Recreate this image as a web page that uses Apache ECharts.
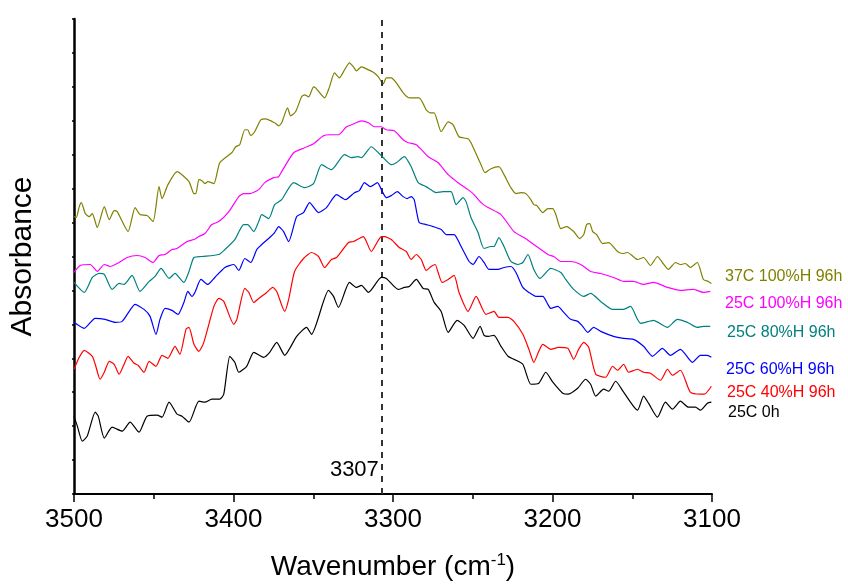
<!DOCTYPE html>
<html>
<head>
<meta charset="utf-8">
<script src="https://cdn.jsdelivr.net/npm/echarts@6/dist/echarts.min.js"></script>
<style>
html,body{margin:0;padding:0;background:#fff;}
#main{width:848px;height:586px;}
</style>
</head>
<body>
<div id="main"></div>
<script>
// ---- data (wavenumber cm^-1, absorbance in arbitrary offset units) ----
const seriesNames = ['37C 100%H 96h','25C 100%H 96h','25C 80%H 96h','25C 60%H 96h','25C 40%H 96h','25C 0h'];
const peakPosition = 3307;
const peakLabel = '3307';
const xTicks = [3500,3400,3300,3200,3100];

const s37C100H = [[3500,2.78],[3498.6,2.77],[3496.7,2.88],[3495.4,2.92],[3492.9,2.81],[3490.4,2.78],[3488.5,2.81],[3485.4,2.67],[3481.0,2.88],[3477.9,2.75],[3474.8,2.84],[3472.9,2.83],[3466.1,2.63],[3461.7,2.87],[3458.6,2.80],[3454.2,2.79],[3450.4,2.73],[3446.7,3.08],[3444.8,2.96],[3441.1,3.10],[3435.4,3.23],[3427.9,3.13],[3424.8,3.01],[3423.6,3.01],[3421.7,3.15],[3419.8,3.14],[3417.9,3.11],[3416.1,3.13],[3412.3,3.11],[3408.6,3.32],[3401.1,3.42],[3398.6,3.48],[3396.1,3.50],[3392.9,3.65],[3391.1,3.65],[3389.2,3.59],[3386.7,3.63],[3382.9,3.75],[3379.8,3.76],[3374.2,3.72],[3371.7,3.69],[3369.8,3.72],[3366.1,3.87],[3364.2,3.79],[3361.1,3.83],[3357.3,3.98],[3355.4,4.00],[3352.9,3.98],[3349.8,4.08],[3348.5,4.07],[3342.9,3.97],[3339.8,4.08],[3336.7,4.22],[3333.6,4.17],[3330.4,4.25],[3327.3,4.32],[3324.8,4.28],[3322.9,4.24],[3319.8,4.28],[3317.9,4.27],[3311.7,4.22],[3309.2,4.18],[3306.1,4.11],[3304.2,4.17],[3301.1,4.17],[3297.9,4.12],[3293.6,4.02],[3289.8,3.97],[3283.6,3.97],[3279.2,3.85],[3276.7,3.82],[3274.2,3.82],[3269.8,3.63],[3265.4,3.73],[3262.3,3.70],[3258.6,3.58],[3252.9,3.56],[3251.1,3.52],[3244.8,3.30],[3242.3,3.22],[3238.6,3.26],[3233.6,3.28],[3230.4,3.20],[3226.1,3.07],[3222.9,3.01],[3219.8,3.02],[3216.7,3.01],[3213.6,2.95],[3211.7,2.90],[3209.8,2.89],[3206.1,2.82],[3202.9,2.86],[3199.8,2.86],[3197.9,2.80],[3194.8,2.66],[3191.1,2.68],[3186.7,2.63],[3182.9,2.56],[3180.4,2.60],[3178.6,2.70],[3176.7,2.71],[3174.8,2.63],[3172.3,2.60],[3168.6,2.51],[3164.8,2.52],[3159.2,2.43],[3156.1,2.41],[3152.9,2.42],[3146.7,2.35],[3142.9,2.37],[3138.6,2.29],[3134.2,2.38],[3131.1,2.32],[3127.3,2.25],[3122.9,2.32],[3119.8,2.30],[3116.7,2.31],[3113.6,2.27],[3109.2,2.32],[3105.4,2.15],[3102.3,2.13],[3100.4,2.11]];

const s25C100H = [[3500,2.22],[3496.1,2.29],[3489.8,2.30],[3485.4,2.23],[3481.0,2.30],[3477.3,2.28],[3472.9,2.31],[3466.7,2.37],[3460.4,2.39],[3455.4,2.37],[3450.4,2.32],[3446.7,2.39],[3442.9,2.40],[3438.6,2.45],[3435.4,2.46],[3429.2,2.53],[3424.8,2.55],[3421.7,2.58],[3417.9,2.61],[3413.6,2.70],[3409.2,2.73],[3402.9,2.83],[3396.7,2.98],[3393.6,3.01],[3389.8,3.01],[3384.2,3.05],[3380.4,3.12],[3374.8,3.17],[3371.7,3.18],[3369.8,3.23],[3362.3,3.42],[3355.4,3.47],[3349.8,3.51],[3343.6,3.59],[3339.8,3.60],[3334.2,3.60],[3329.2,3.68],[3326.1,3.70],[3319.8,3.74],[3315.4,3.72],[3311.7,3.68],[3307.3,3.68],[3304.2,3.65],[3299.2,3.64],[3293.6,3.55],[3290.4,3.52],[3285.4,3.50],[3277.9,3.38],[3271.7,3.32],[3265.4,3.20],[3259.2,3.12],[3252.9,3.05],[3249.2,3.00],[3244.8,2.92],[3240.4,2.87],[3232.3,2.80],[3224.2,2.63],[3217.9,2.57],[3211.7,2.50],[3202.9,2.40],[3199.2,2.38],[3194.8,2.33],[3188.6,2.33],[3182.3,2.30],[3176.1,2.23],[3169.8,2.21],[3161.7,2.17],[3155.4,2.13],[3149.2,2.13],[3142.9,2.10],[3136.7,2.12],[3127.9,2.07],[3119.8,2.04],[3111.7,2.05],[3105.4,2.02],[3101.1,2.03]];

const s25C80H = [[3500,2.12],[3493.6,2.02],[3488.5,2.17],[3484.2,2.21],[3481.0,2.20],[3476.1,2.05],[3471.7,2.11],[3468.6,2.10],[3463.6,2.19],[3458.6,2.03],[3452.9,2.13],[3449.2,2.18],[3445.4,2.26],[3440.4,2.16],[3436.7,2.21],[3431.1,2.12],[3427.9,2.23],[3424.8,2.37],[3419.8,2.38],[3409.2,2.40],[3405.4,2.45],[3399.2,2.55],[3393.6,2.70],[3391.1,2.70],[3387.3,2.63],[3384.2,2.73],[3382.3,2.80],[3377.9,2.76],[3374.2,2.90],[3369.8,2.95],[3362.3,3.12],[3355.4,3.07],[3349.8,3.11],[3344.8,3.30],[3338.6,3.25],[3330.4,3.40],[3326.1,3.37],[3321.7,3.38],[3319.8,3.37],[3313.6,3.48],[3309.2,3.42],[3306.1,3.37],[3301.1,3.30],[3297.9,3.32],[3292.9,3.38],[3288.6,3.28],[3284.2,3.12],[3279.2,3.08],[3272.9,3.02],[3268.6,3.03],[3263.6,3.03],[3260.4,2.90],[3256.1,2.97],[3254.2,2.93],[3251.1,2.77],[3246.7,2.62],[3242.9,2.46],[3238.6,2.48],[3236.7,2.48],[3233.6,2.57],[3230.4,2.48],[3226.1,2.33],[3221.7,2.30],[3218.6,2.32],[3215.4,2.40],[3211.7,2.25],[3207.9,2.16],[3201.1,2.26],[3194.8,2.22],[3191.7,2.15],[3186.7,2.05],[3180.4,1.98],[3176.1,2.01],[3169.8,1.93],[3162.3,1.85],[3155.4,1.85],[3151.1,1.88],[3146.7,1.75],[3144.8,1.71],[3136.7,1.74],[3127.9,1.67],[3121.7,1.75],[3115.4,1.72],[3109.2,1.67],[3105.4,1.68],[3101.1,1.68]];

const s25C60H = [[3500,1.72],[3493.6,1.66],[3486.7,1.76],[3480.4,1.75],[3474.2,1.72],[3469.8,1.73],[3465.4,1.83],[3461.7,1.90],[3456.1,1.85],[3452.3,1.78],[3448.6,1.60],[3446.1,1.75],[3442.9,1.86],[3438.6,1.84],[3434.8,1.80],[3431.1,1.92],[3428.6,2.03],[3426.1,1.98],[3424.2,2.02],[3420.4,2.15],[3416.1,2.10],[3411.7,2.17],[3405.4,2.27],[3399.8,2.30],[3396.7,2.24],[3392.9,2.36],[3389.2,2.32],[3385.4,2.45],[3382.3,2.50],[3377.3,2.57],[3374.2,2.62],[3371.7,2.68],[3368.6,2.63],[3365.4,2.53],[3360.4,2.78],[3356.1,2.82],[3352.3,2.92],[3346.7,2.82],[3341.7,2.87],[3335.4,3.00],[3329.8,2.95],[3324.2,3.02],[3321.1,3.04],[3317.9,3.12],[3314.2,3.08],[3309.8,3.12],[3306.7,3.03],[3304.2,2.97],[3301.1,2.99],[3297.3,3.03],[3293.6,2.98],[3291.1,2.96],[3288.6,2.98],[3286.7,2.95],[3283.6,2.72],[3279.2,2.70],[3274.8,2.68],[3269.8,2.65],[3266.7,2.60],[3261.7,2.60],[3257.3,2.48],[3252.3,2.33],[3249.8,2.30],[3246.1,2.38],[3242.9,2.32],[3239.8,2.25],[3234.2,2.25],[3230.4,2.27],[3226.1,2.28],[3222.9,2.22],[3218.6,2.07],[3214.8,2.02],[3210.4,1.98],[3206.1,1.98],[3202.9,1.90],[3201.1,1.86],[3196.7,1.88],[3192.9,1.82],[3188.6,1.75],[3184.2,1.73],[3181.1,1.68],[3177.9,1.62],[3174.2,1.67],[3169.8,1.63],[3161.7,1.58],[3155.4,1.56],[3149.2,1.55],[3142.9,1.48],[3137.3,1.38],[3131.1,1.46],[3126.1,1.39],[3119.8,1.45],[3112.3,1.32],[3107.3,1.39],[3102.9,1.39],[3100.4,1.37]];

const s25C40H = [[3500,1.25],[3496.7,1.37],[3493.6,1.44],[3488.5,1.38],[3486.7,1.30],[3483.6,1.15],[3481.0,1.22],[3477.9,1.33],[3474.8,1.30],[3471.7,1.20],[3468.6,1.30],[3466.1,1.38],[3462.3,1.31],[3459.8,1.29],[3456.1,1.22],[3452.9,1.33],[3448.6,1.28],[3444.8,1.39],[3441.1,1.36],[3436.7,1.48],[3433.6,1.40],[3429.8,1.65],[3427.9,1.67],[3424.8,1.50],[3421.7,1.43],[3418.6,1.52],[3412.3,1.88],[3409.2,1.96],[3406.1,1.93],[3399.8,1.70],[3397.9,1.75],[3392.9,2.06],[3390.4,2.02],[3387.3,1.92],[3384.2,1.96],[3379.2,2.02],[3375.4,2.07],[3372.9,2.03],[3367.9,1.83],[3365.4,1.95],[3361.7,2.23],[3356.1,2.36],[3351.1,2.42],[3346.7,2.38],[3342.9,2.27],[3338.6,2.35],[3335.4,2.37],[3327.9,2.52],[3324.8,2.53],[3318.6,2.58],[3313.6,2.43],[3307.3,2.58],[3305.4,2.58],[3301.1,2.55],[3296.1,2.47],[3291.7,2.43],[3288.6,2.35],[3285.4,2.40],[3282.3,2.35],[3279.2,2.24],[3276.1,2.28],[3273.6,2.30],[3271.7,2.22],[3269.2,2.12],[3265.4,2.15],[3261.7,2.19],[3258.6,2.02],[3252.9,1.83],[3247.9,1.98],[3241.7,1.80],[3236.7,1.83],[3233.6,1.77],[3227.9,1.77],[3224.2,1.73],[3218.6,1.60],[3214.8,1.45],[3211.7,1.32],[3208.6,1.43],[3206.1,1.50],[3201.1,1.45],[3196.1,1.47],[3190.4,1.46],[3186.7,1.35],[3183.6,1.45],[3180.4,1.52],[3177.3,1.47],[3172.9,1.20],[3166.7,1.17],[3162.3,1.28],[3159.2,1.24],[3155.4,1.30],[3152.3,1.22],[3146.7,1.25],[3142.9,1.22],[3138.6,1.21],[3132.3,1.14],[3127.9,1.25],[3124.8,1.19],[3119.8,1.24],[3113.6,1.02],[3107.3,1.00],[3104.8,1.00],[3100.4,1.08]];

const s25C0h = [[3500,0.78],[3497.9,0.68],[3494.8,0.53],[3491.7,0.58],[3486.7,0.82],[3484.8,0.78],[3481.0,0.56],[3476.1,0.67],[3469.8,0.63],[3464.8,0.72],[3459.2,0.62],[3454.2,0.78],[3447.9,0.79],[3444.8,0.77],[3440.4,0.92],[3435.4,0.80],[3432.3,0.78],[3427.9,0.72],[3421.7,0.93],[3417.9,0.92],[3413.6,0.95],[3408.6,0.95],[3406.1,1.00],[3402.3,1.38],[3399.2,1.32],[3396.7,1.22],[3391.7,1.28],[3387.3,1.42],[3381.1,1.37],[3377.3,1.42],[3372.9,1.52],[3367.9,1.39],[3360.4,1.58],[3354.2,1.67],[3351.1,1.60],[3340.4,2.04],[3337.3,1.98],[3334.2,1.87],[3327.3,2.12],[3322.9,2.07],[3319.8,2.09],[3315.4,2.02],[3307.3,2.17],[3304.2,2.16],[3296.7,2.05],[3292.9,2.07],[3289.8,2.08],[3285.4,2.15],[3281.1,2.06],[3277.9,2.05],[3274.2,1.92],[3269.8,1.83],[3265.4,1.62],[3259.8,1.74],[3255.4,1.69],[3249.8,1.56],[3245.4,1.68],[3242.9,1.59],[3240.4,1.58],[3236.7,1.59],[3232.3,1.48],[3227.9,1.38],[3224.2,1.35],[3218.6,1.30],[3213.6,1.10],[3208.6,1.11],[3204.2,1.22],[3199.8,1.12],[3193.6,1.01],[3190.4,1.00],[3184.2,1.06],[3179.2,1.15],[3176.1,1.10],[3172.9,0.98],[3167.9,1.05],[3164.8,1.03],[3160.4,1.13],[3155.4,1.02],[3146.7,0.84],[3142.9,0.98],[3139.8,0.91],[3134.2,0.77],[3129.2,0.92],[3124.8,0.85],[3119.8,0.93],[3114.8,0.87],[3110.4,0.87],[3107.3,0.84],[3102.9,0.91],[3100.4,0.92]];

const seriesData = [s37C100H, s25C100H, s25C80H, s25C60H, s25C40H, s25C0h];

// ---- styling ----
const colors = ['#808000','#FF00FF','#008080','#0000FF','#FF0000','#000000'];
const FONT = '"Liberation Sans", Arial, Helvetica, sans-serif';
const labelLayout = [ {x:725,y:277},{x:725,y:304},{x:727,y:333},{x:726,y:370},{x:727,y:393},{x:728,y:413} ];

const chart = echarts.init(document.getElementById('main'), null, {renderer:'canvas'});

const lineSeries = seriesNames.map((name, i) => ({
  name: name,
  type: 'line',
  data: seriesData[i],
  showSymbol: false,
  smooth: 0.2,
  lineStyle: {color: colors[i], width: 1.2},
  itemStyle: {color: colors[i]},
  z: 3 + i
}));

lineSeries.push({
  name: 'peak',
  type: 'scatter',
  data: [[peakPosition, 0.24]],
  symbolSize: 0,
  silent: true,
  itemStyle: {opacity: 1, color: '#000'},
  label: {show: true, position: 'left', distance: 3, formatter: peakLabel, fontSize: 22, color: '#000', opacity: 1, fontFamily: FONT},
  markLine: {
    silent: true,
    symbol: ['none','none'],
    label: {show: false},
    lineStyle: {color: '#333', width: 2, type: [6,6], opacity: 1},
    data: [{xAxis: peakPosition}]
  },
  z: 2
});

const option = {
  animation: false,
  backgroundColor: '#fff',
  textStyle: {fontFamily: FONT},
  grid: {left: 72, top: 19, width: 640, height: 476, containLabel: false},
  xAxis: {
    type: 'value',
    inverse: true,
    min: 3100, max: 3500, interval: 100,
    axisLine: {show: true, onZero: false, lineStyle: {color: '#000', width: 2}},
    axisTick: {show: true, inside: false, length: 8, lineStyle: {color: '#000', width: 1.5}},
    minorTick: {show: true, splitNumber: 2, length: 5, lineStyle: {color: '#000', width: 1.5}},
    splitLine: {show: false},
    axisLabel: {
      fontSize: 26, color: '#000', margin: 13, fontFamily: FONT,
      formatter: v => (xTicks.indexOf(v) >= 0 ? String(v) : '')
    },
    name: '{a|Wavenumber (cm}{s|-1}{a|)}',
    nameLocation: 'middle',
    nameGap: 58,
    nameTextStyle: {
      rich: {
        a: {fontSize: 28, color: '#000', fontFamily: FONT, lineHeight: 30},
        s: {fontSize: 17, color: '#000', fontFamily: FONT, verticalAlign: 'top', lineHeight: 30}
      }
    }
  },
  yAxis: {
    type: 'value',
    min: 0, max: 4.76, interval: 0.34,
    axisLine: {show: true, onZero: false, lineStyle: {color: '#000', width: 2.5}},
    axisTick: {show: true, inside: false, length: 2, lineStyle: {color: '#000', width: 1.5}},
    axisLabel: {show: false},
    splitLine: {show: false},
    name: 'Absorbance',
    nameLocation: 'middle',
    nameGap: 36,
    nameRotate: 90,
    nameTextStyle: {fontSize: 30, color: '#000', fontFamily: FONT}
  },
  graphic: seriesNames.map((t, i) => ({
    type: 'text',
    x: labelLayout[i].x,
    y: labelLayout[i].y,
    silent: true,
    style: {text: t, fill: colors[i], fontSize: 16, fontFamily: FONT, verticalAlign: 'middle', align: 'left'}
  })),
  series: lineSeries
};

chart.setOption(option);
</script>
</body>
</html>
